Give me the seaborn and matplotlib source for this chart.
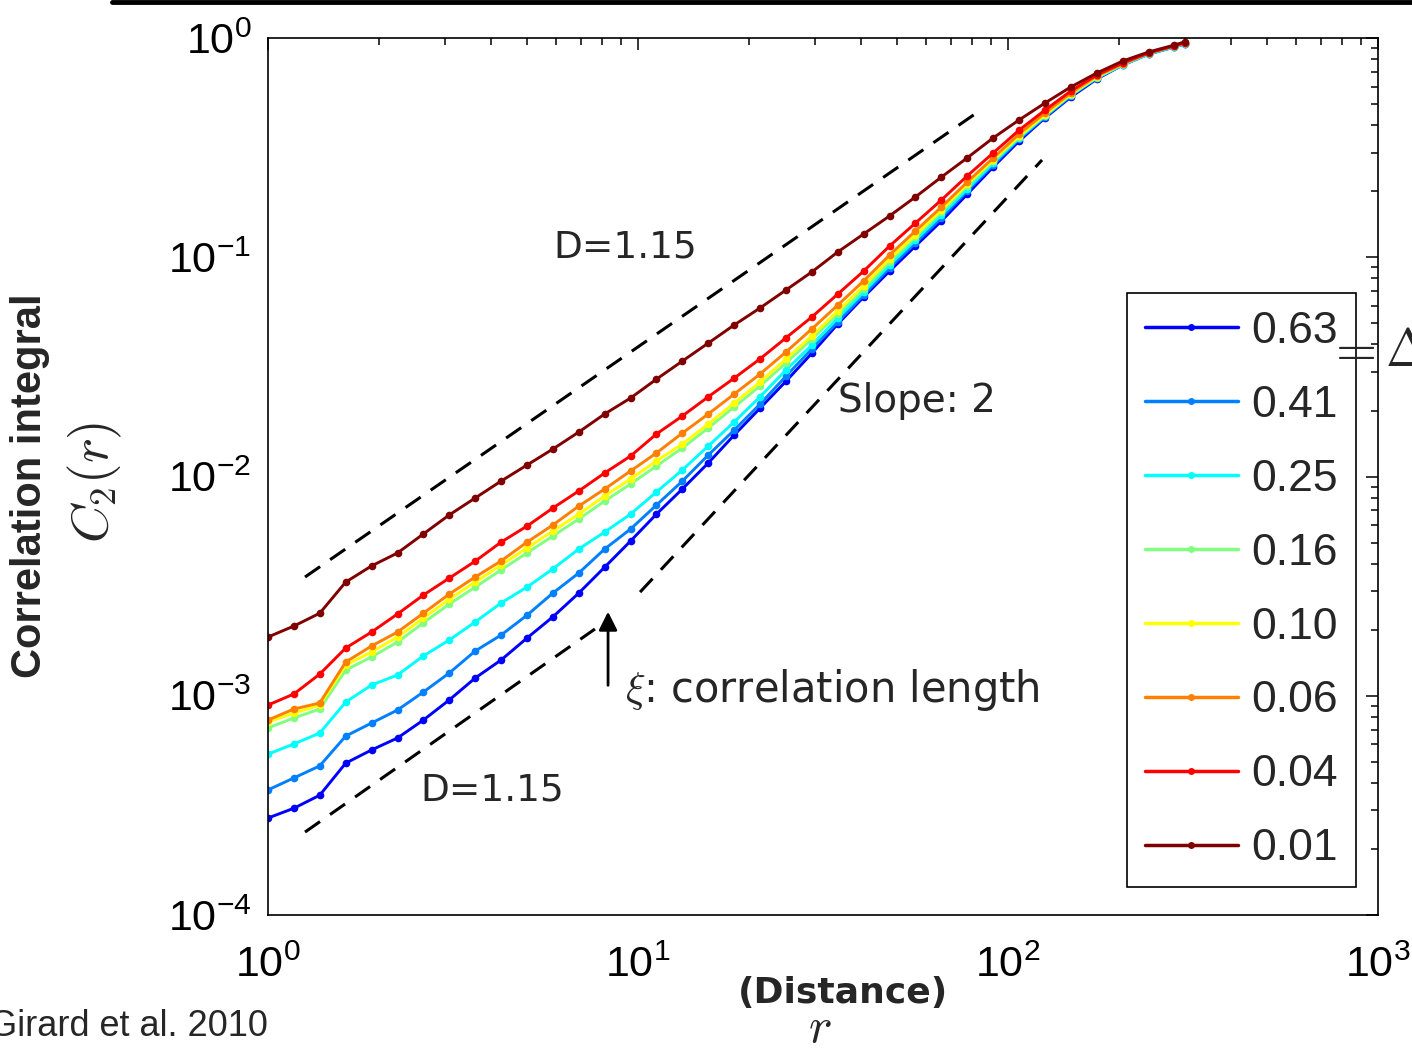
import pandas as pd
import seaborn as sns
import matplotlib.pyplot as plt
from matplotlib.lines import Line2D

sns.set_style('white')
plt.rcParams['font.family'] = ['Liberation Sans', 'DejaVu Sans']
plt.rcParams['mathtext.fontset'] = 'cm'

# distance r
r = [1.0, 1.175, 1.38, 1.622, 1.905, 2.239, 2.63, 3.09, 3.631, 4.266, 5.012, 5.888,
     6.918, 8.128, 9.55, 11.22, 13.18, 15.49, 18.2, 21.38, 25.12, 29.51, 34.67, 40.74,
     47.86, 56.23, 66.07, 77.62, 91.2, 107.2, 125.9, 147.9, 173.8, 204.2, 239.9, 281.8, 300.0]

# correlation integral C2(r), one list per Delta
c_063 = [2.77e-4, 3.07e-4, 3.52e-4, 4.93e-4, 5.66e-4, 6.42e-4, 7.75e-4, 9.57e-4, 1.205e-3,
         1.456e-3, 1.833e-3, 2.29e-3, 2.94e-3, 3.86e-3, 5.08e-3, 6.74e-3, 8.77e-3, 1.153e-2,
         1.546e-2, 2.05e-2, 2.72e-2, 3.65e-2, 4.96e-2, 6.59e-2, 8.65e-2, 0.1125, 0.1462, 0.194,
         0.258, 0.339, 0.432, 0.538, 0.650, 0.753, 0.845, 0.910, 0.939]
c_041 = [3.72e-4, 4.22e-4, 4.79e-4, 6.55e-4, 7.51e-4, 8.61e-4, 1.040e-3, 1.270e-3, 1.600e-3,
         1.892e-3, 2.33e-3, 2.94e-3, 3.63e-3, 4.67e-3, 5.76e-3, 7.41e-3, 9.53e-3, 1.253e-2,
         1.629e-2, 2.14e-2, 2.87e-2, 3.82e-2, 5.07e-2, 6.73e-2, 8.93e-2, 0.1161, 0.1510, 0.2005,
         0.2635, 0.346, 0.436, 0.544, 0.657, 0.753, 0.845, 0.910, 0.939]
c_025 = [5.42e-4, 6.03e-4, 6.76e-4, 9.36e-4, 1.119e-3, 1.244e-3, 1.519e-3, 1.796e-3, 2.17e-3,
         2.65e-3, 3.13e-3, 3.79e-3, 4.67e-3, 5.58e-3, 6.74e-3, 8.50e-3, 1.071e-2, 1.377e-2,
         1.774e-2, 2.31e-2, 3.06e-2, 3.98e-2, 5.28e-2, 6.94e-2, 9.22e-2, 0.1199, 0.1559, 0.2048,
         0.2691, 0.3499, 0.4407, 0.550, 0.657, 0.753, 0.845, 0.910, 0.939]
c_016 = [7.13e-4, 7.92e-4, 8.70e-4, 1.310e-3, 1.503e-3, 1.758e-3, 2.15e-3, 2.62e-3, 3.13e-3,
         3.75e-3, 4.48e-3, 5.35e-3, 6.40e-3, 7.73e-3, 9.24e-3, 1.117e-2, 1.349e-2, 1.664e-2,
         2.075e-2, 2.587e-2, 3.294e-2, 4.237e-2, 5.51e-2, 7.16e-2, 9.51e-2, 0.1237, 0.1608, 0.2113,
         0.2748, 0.3535, 0.4456, 0.550, 0.664, 0.761, 0.854, 0.920, 0.949]
c_010 = [7.59e-4, 8.34e-4, 9.07e-4, 1.380e-3, 1.585e-3, 1.853e-3, 2.26e-3, 2.76e-3, 3.30e-3,
         3.95e-3, 4.72e-3, 5.64e-3, 6.74e-3, 8.15e-3, 9.75e-3, 1.178e-2, 1.407e-2, 1.736e-2,
         2.163e-2, 2.698e-2, 3.436e-2, 4.375e-2, 5.69e-2, 7.39e-2, 9.82e-2, 0.1263, 0.1642, 0.2159,
         0.2778, 0.357, 0.4456, 0.5555, 0.664, 0.761, 0.854, 0.920, 0.949]
c_006 = [7.75e-4, 8.70e-4, 9.27e-4, 1.426e-3, 1.686e-3, 1.953e-3, 2.38e-3, 2.91e-3, 3.48e-3,
         4.12e-3, 5.02e-3, 6.01e-3, 7.33e-3, 8.77e-3, 1.060e-2, 1.280e-2, 1.578e-2, 1.928e-2,
         2.377e-2, 2.934e-2, 3.698e-2, 4.71e-2, 6.05e-2, 7.80e-2, 0.1024, 0.1318, 0.1694, 0.2203,
         0.2836, 0.365, 0.455, 0.561, 0.671, 0.761, 0.854, 0.920, 0.949]
c_004 = [9.07e-4, 1.019e-3, 1.256e-3, 1.651e-3, 1.953e-3, 2.36e-3, 2.88e-3, 3.44e-3, 4.11e-3,
         5.02e-3, 5.94e-3, 7.18e-3, 8.59e-3, 1.038e-2, 1.240e-2, 1.563e-2, 1.888e-2, 2.31e-2,
         2.81e-2, 3.44e-2, 4.29e-2, 5.34e-2, 6.79e-2, 8.65e-2, 0.1125, 0.1432, 0.1824, 0.235,
         0.299, 0.380, 0.469, 0.573, 0.678, 0.769, 0.854, 0.920, 0.949]
c_001 = [1.853e-3, 2.08e-3, 2.38e-3, 3.30e-3, 3.91e-3, 4.48e-3, 5.47e-3, 6.68e-3, 7.98e-3,
         9.53e-3, 1.128e-2, 1.334e-2, 1.595e-2, 1.928e-2, 2.28e-2, 2.78e-2, 3.36e-2, 4.06e-2,
         4.91e-2, 5.87e-2, 7.09e-2, 8.57e-2, 0.1057, 0.1277, 0.1543, 0.1884, 0.232, 0.284,
         0.350, 0.423, 0.505, 0.598, 0.692, 0.785, 0.863, 0.929, 0.959]

labels = ['0.63', '0.41', '0.25', '0.16', '0.10', '0.06', '0.04', '0.01']
series = [c_063, c_041, c_025, c_016, c_010, c_006, c_004, c_001]
colors = ['#0000ff', '#0080ff', '#00ffff', '#80ff80', '#ffff00', '#ff8000', '#ff0000', '#800000']

# reference lines (end points)
d_top_x, d_top_y = [1.259, 82.97], [3.48e-3, 0.46]
d_low_x, d_low_y = [1.259, 7.65], [2.39e-4, 2.016e-3]
slope_x, slope_y = [10.13, 123.6], [2.97e-3, 0.2777]

rows = []
for lab, vals in zip(labels, series):
    for x, y in zip(r, vals):
        rows.append({'r': x, 'C2': y, 'delta': lab})
df = pd.DataFrame(rows)

fig = plt.figure(figsize=(14.12, 10.49), dpi=100)
ax = fig.add_axes([0.1898, 0.1277, 0.7861, 0.8361])
ax.set_xscale('log')
ax.set_yscale('log')

sns.lineplot(data=df, x='r', y='C2', hue='delta', hue_order=labels,
             palette=dict(zip(labels, colors)), estimator=None, sort=False,
             marker='o', markersize=5.5, markeredgewidth=0, linewidth=2.1,
             legend=False, ax=ax)

dash = dict(color='black', lw=2.2, ls=(0, (6, 4)))
ax.plot(d_top_x, d_top_y, **dash)
ax.plot(d_low_x, d_low_y, **dash)
ax.plot(slope_x, slope_y, **dash)

ax.annotate('', xy=(8.3, 2.49e-3), xytext=(8.3, 1.084e-3),
            arrowprops=dict(arrowstyle='-|>', color='black', lw=2, mutation_scale=28))

txt = dict(family='DejaVu Sans', ha='left', va='center')
ax.text(5.89, 0.1113, 'D=1.15', fontsize=27, **txt)
ax.text(2.576, 3.716e-4, 'D=1.15', fontsize=27, **txt)
ax.text(34.72, 0.02211, 'Slope: 2', fontsize=28, **txt)
ax.text(9.22, 1.062e-3, r'$\xi$: correlation length', fontsize=30, **txt)

ax.set_xlim(1, 1000)
ax.set_ylim(1e-4, 1)
ax.set_xlabel('')
ax.set_ylabel('')
for s in ax.spines.values():
    s.set_visible(True)
    s.set_color('black')
    s.set_linewidth(1.2)
ax.tick_params(which='both', direction='in', top=True, right=True, width=1.1,
               labelsize=31, colors='black')
ax.tick_params(which='major', length=8.5)
ax.tick_params(which='minor', length=5)
ax.tick_params(axis='x', which='major', pad=22)
ax.tick_params(axis='y', which='major', pad=12)

handles = [Line2D([], [], color=c, lw=2.5, marker='o', ms=5, mew=0) for c in colors]
leg = ax.legend(handles, labels, loc='upper right', bbox_to_anchor=(0.980, 0.709),
                borderaxespad=0, fontsize=32, numpoints=1, handlelength=2.1,
                handletextpad=0.3, labelspacing=0.74, borderpad=0.4, fancybox=False,
                framealpha=1, edgecolor='black')
leg.get_frame().set_linewidth(1.2)

fig.text(30 / 1412, 1 - 486 / 1049, 'Correlation integral', rotation=90,
         fontsize=30, fontweight='bold', ha='center', va='center')
fig.text(95 / 1412, 1 - 482 / 1049, r'$C_2(r)$', rotation=90, fontsize=38,
         ha='center', va='center')
fig.text(843 / 1412, 1 - 993 / 1049, '(Distance)', fontsize=26, fontweight='bold',
         family='DejaVu Sans', ha='center', va='center')
fig.text(820 / 1412, 1 - 1042 / 1049, r'$r$', fontsize=36, ha='center', va='baseline')
fig.text(268 / 1412, 1 - 1027 / 1049, 'Girard et al. 2010', fontsize=26,
         ha='right', va='center')
fig.text(1326 / 1412, 1 - 352 / 1049, r'$=\Delta$', fontsize=38, ha='left', va='center')
fig.add_artist(Line2D([112 / 1412, 1.0], [0.9985, 0.9985], color='black', lw=3.5))

fig.savefig('out.png', dpi=100, facecolor='white')
